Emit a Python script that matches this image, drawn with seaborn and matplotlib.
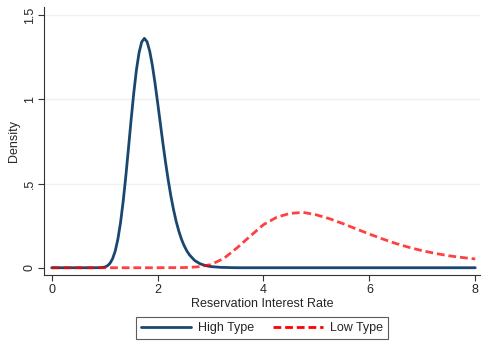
import matplotlib
matplotlib.use("Agg")
import matplotlib.pyplot as plt
import pandas as pd
import seaborn as sns
from matplotlib.lines import Line2D

# values
x_high = [0, 0.5, 0.8, 0.9, 0.95, 1.0, 1.05, 1.1, 1.15, 1.2, 1.25, 1.3, 1.35,
          1.4, 1.45, 1.5, 1.55, 1.6, 1.65, 1.7, 1.75, 1.8, 1.85, 1.9, 1.95,
          2.0, 2.05, 2.1, 2.15, 2.2, 2.25, 2.3, 2.35, 2.4, 2.45, 2.5, 2.55,
          2.6, 2.7, 2.8, 2.9, 3.0, 3.2, 3.5, 4, 5, 6, 7, 8]
y_high = [0, 0, 0, 0.0004, 0.0014, 0.004, 0.011, 0.026, 0.054, 0.100, 0.171,
          0.269, 0.396, 0.546, 0.712, 0.881, 1.040, 1.176, 1.279, 1.342, 1.363,
          1.343, 1.288, 1.204, 1.099, 0.982, 0.861, 0.740, 0.626, 0.521, 0.427,
          0.346, 0.276, 0.218, 0.170, 0.132, 0.101, 0.077, 0.043, 0.024, 0.013,
          0.007, 0.002, 0, 0, 0, 0, 0, 0]

x_low = [0, 0.5, 1.0, 1.5, 2.0, 2.5, 2.75, 3.0, 3.25, 3.5, 3.75, 4.0, 4.25, 4.5,
         4.75, 5.0, 5.25, 5.5, 5.75, 6.0, 6.25, 6.5, 6.75, 7.0, 7.25, 7.5, 7.75, 8.0]
y_low = [0, 0, 0, 0, 0, 0.001, 0.005, 0.018, 0.055, 0.118, 0.188, 0.256, 0.300,
         0.323, 0.329, 0.314, 0.291, 0.262, 0.231, 0.200, 0.171, 0.144, 0.121,
         0.101, 0.085, 0.071, 0.061, 0.052]

series_names = ["High Type", "Low Type"]
x_ticks = [0, 2, 4, 6, 8]
y_ticks = [0, 0.5, 1, 1.5]
y_ticklabels = ["0", ".5", "1", "1.5"]

NAVY = "#1a476f"
RED = "#ff0000"

sns.set_style("white")
plt.rcParams["font.family"] = ["Liberation Sans", "DejaVu Sans"]

df_high = pd.DataFrame({"x": x_high, "y": y_high})
df_low = pd.DataFrame({"x": x_low, "y": y_low})

fig = plt.figure(figsize=(4.82, 3.45), dpi=100)
ax = fig.add_axes([0.0913, 0.202, 0.9046, 0.778])

for yv in y_ticks[1:]:
    ax.axhline(yv, color="#eaf2f3", lw=1.0, zorder=0)

sns.lineplot(data=df_high, x="x", y="y", ax=ax, color=NAVY, lw=2.0,
             sort=False, zorder=2)
sns.lineplot(data=df_low, x="x", y="y", ax=ax, color=RED, lw=2.0, alpha=0.75,
             sort=False, zorder=3)
ax.lines[-1].set_dashes((2.8, 1.4))

ax.set_xlim(-0.146, 8.09)
ax.set_ylim(-0.045, 1.55)
ax.set_xticks(x_ticks)
ax.set_xticklabels([str(v) for v in x_ticks])
ax.set_yticks(y_ticks)
ax.set_yticklabels(y_ticklabels, rotation=90, va="center")
ax.tick_params(axis="both", direction="out", length=4, width=0.8,
               color="#333333", labelsize=9, pad=2, left=True, bottom=True)
ax.set_xlabel("Reservation Interest Rate", fontsize=9, labelpad=2)
ax.set_ylabel("Density", fontsize=9, labelpad=3)

sns.despine(ax=ax)
for side in ["left", "bottom"]:
    ax.spines[side].set_color("#333333")
    ax.spines[side].set_linewidth(0.8)

handles = [Line2D([], [], color=NAVY, lw=2.0),
           Line2D([], [], color=RED, lw=2.0, dashes=(2.8, 1.4))]
leg = fig.legend(handles, series_names, loc="center",
                 bbox_to_anchor=(262 / 482, 1 - 328 / 345),
                 ncol=2, frameon=True, fancybox=False, fontsize=9,
                 handlelength=4.0, columnspacing=1.5, handletextpad=0.6,
                 borderpad=0.4)
leg.get_frame().set_edgecolor("#333333")
leg.get_frame().set_linewidth(0.8)

fig.savefig("out.png", dpi=100)
